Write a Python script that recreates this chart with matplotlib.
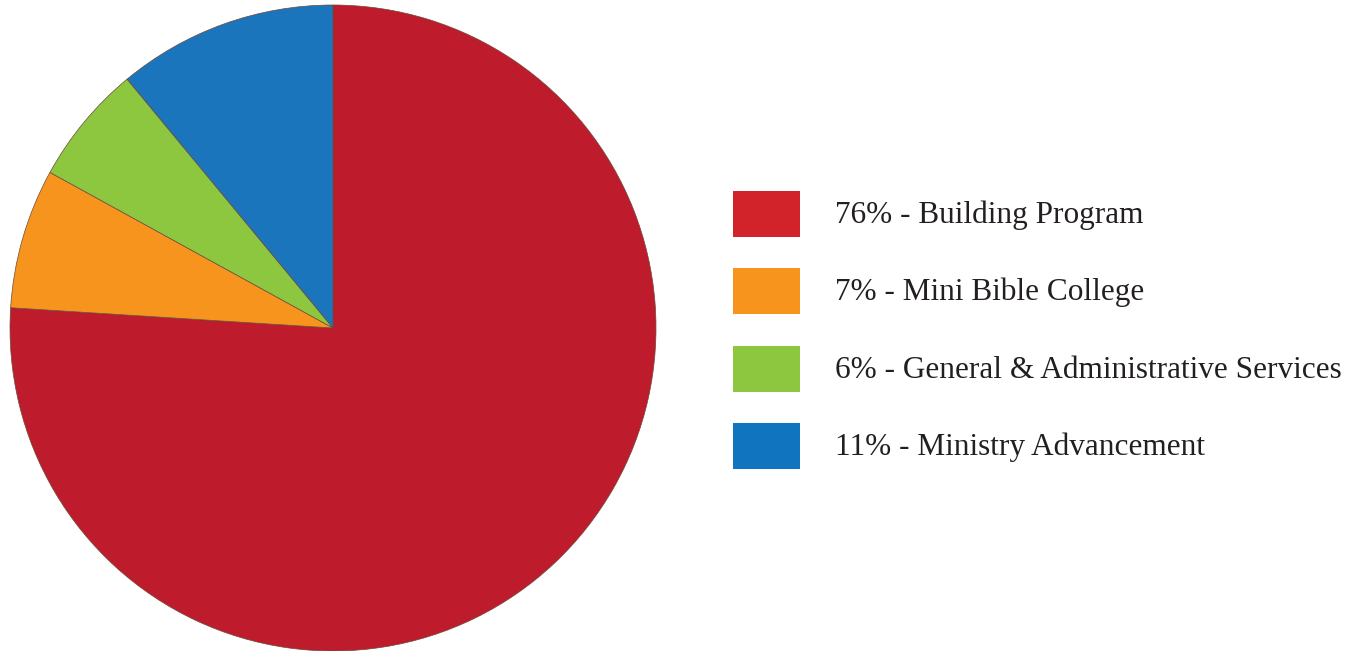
import matplotlib.pyplot as plt
from matplotlib.patches import Rectangle

# budget split
labels = ["Building Program", "Mini Bible College",
          "General & Administrative Services", "Ministry Advancement"]
shares = [76, 7, 6, 11]
pie_colors = ["#BE1B2C", "#F7941E", "#8DC63F", "#1B75BC"]
key_colors = ["#D2232A", "#F7941D", "#8DC63F", "#1174BE"]

W, H = 1349, 651
fig = plt.figure(figsize=(W / 100, H / 100), dpi=100)

# pie: centre ~ (333, 328) px, radius ~ 323 px
r = 323
ax = fig.add_axes([(333 - r) / W, (H - 328 - r) / H, 2 * r / W, 2 * r / H])
ax.pie(shares, colors=pie_colors, startangle=90, counterclock=False,
       radius=1.0,
       wedgeprops=dict(edgecolor="#6b4a3a", linewidth=0.5))
ax.set_xlim(-1, 1)
ax.set_ylim(-1, 1)
ax.set_aspect("equal")
ax.axis("off")

# key on the right, drawn by hand (pixel layout)
box_x, box_w, box_h = 733, 67, 46
top0, pitch = 191, 77.3
text_x = 835
for i, (s, l, c) in enumerate(zip(shares, labels, key_colors)):
    top = top0 + i * pitch
    fig.patches.append(Rectangle((box_x / W, 1 - (top + box_h) / H),
                                 box_w / W, box_h / H,
                                 transform=fig.transFigure,
                                 facecolor=c, edgecolor="none"))
    fig.text(text_x / W, 1 - (top + box_h / 2 + 9) / H, f"{s}% - {l}",
             ha="left", va="baseline", fontsize=22.5,
             family="Liberation Serif", color="#231F20")

fig.savefig("out.png", dpi=100, facecolor="white")
